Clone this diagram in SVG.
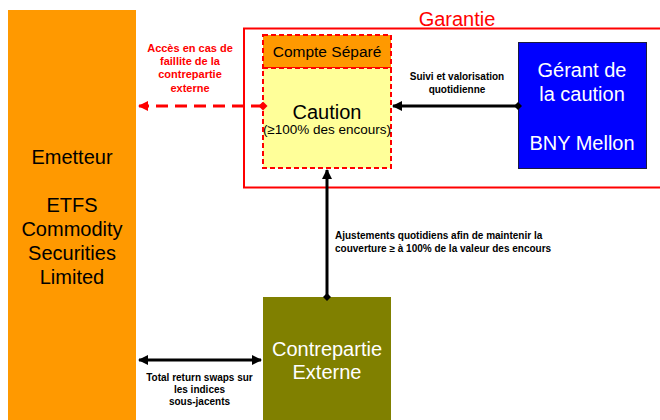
<svg xmlns="http://www.w3.org/2000/svg" width="660" height="420" viewBox="0 0 660 420">
<style>
text{font-family:"Liberation Sans",Arial,sans-serif}
.big{font-size:20px;text-anchor:middle}
.lbl{font-size:10px;font-weight:bold;fill:#000}
.red{fill:#FF0000;font-size:11px}
.conn{stroke:#000;stroke-width:3;fill:none}
</style>
<defs>
<marker id="ah" viewBox="0 0 10 10" refX="9" refY="5" markerWidth="10" markerHeight="10" markerUnits="userSpaceOnUse" orient="auto-start-reverse"><path d="M0,0 L10,5 L0,10 z" fill="#000"/></marker>
<marker id="dm" viewBox="0 0 10 10" refX="5" refY="5" markerWidth="8" markerHeight="8" markerUnits="userSpaceOnUse" orient="auto"><path d="M0,5 L5,0 L10,5 L5,10 z" fill="#000"/></marker>
<marker id="ahr" viewBox="0 0 10 10" refX="9" refY="5" markerWidth="10" markerHeight="10" markerUnits="userSpaceOnUse" orient="auto-start-reverse"><path d="M0,0 L10,5 L0,10 z" fill="#FF0000"/></marker>
<marker id="dmr" viewBox="0 0 10 10" refX="5" refY="5" markerWidth="9" markerHeight="9" markerUnits="userSpaceOnUse" orient="auto"><path d="M0,5 L5,0 L10,5 L5,10 z" fill="#FF0000"/></marker>
</defs>
<rect width="660" height="420" fill="#FFFFFF"/>
<g id="emetteur">
<rect x="8" y="10" width="128" height="412" fill="#FF9900"/>
<text class="big" x="72" y="164">Emetteur</text>
<text class="big" x="72" y="212">ETFS</text>
<text class="big" x="72" y="236">Commodity</text>
<text class="big" x="72" y="260">Securities</text>
<text class="big" x="72" y="284">Limited</text>
</g>
<g id="garantie">
<rect x="244" y="28.5" width="430" height="159" fill="none" stroke="#FF0000" stroke-width="2"/>
<text class="big" x="457" y="26" fill="#FF0000">Garantie</text>
</g>
<g id="compte-separe">
<rect x="263" y="35" width="128" height="33" fill="#FF9900" stroke="#FF0000" stroke-width="2" stroke-dasharray="5,3"/>
<text x="327" y="57" font-size="15.5" text-anchor="middle">Compte Séparé</text>
</g>
<g id="caution">
<rect x="263" y="68" width="128" height="100" fill="#FFFF99" stroke="#FF0000" stroke-width="2" stroke-dasharray="5,3"/>
<text class="big" x="327" y="119">Caution</text>
<text x="327" y="134" font-size="13.5" text-anchor="middle">(≥100% des encours)</text>
</g>
<g id="bny">
<rect x="518.5" y="42.5" width="128" height="126" fill="#0000FF" stroke="#1a1a40" stroke-width="1"/>
<text class="big" x="582" y="77" fill="#FFFFFF">Gérant de</text>
<text class="big" x="582" y="101" fill="#FFFFFF">la caution</text>
<text class="big" x="582" y="150" fill="#FFFFFF">BNY Mellon</text>
</g>
<g id="contrepartie">
<rect x="263" y="297" width="128" height="125" fill="#808000"/>
<text class="big" x="327" y="356" fill="#FFFFFF">Contrepartie</text>
<text class="big" x="327" y="379" fill="#FFFFFF">Externe</text>
</g>
<g id="connectors">
<line x1="263" y1="106" x2="139" y2="106" stroke="#FF0000" stroke-width="3" stroke-dasharray="12,7" marker-start="url(#dmr)" marker-end="url(#ahr)"/>
<line class="conn" x1="518" y1="106" x2="393" y2="106" marker-start="url(#dm)" marker-end="url(#ah)"/>
<line class="conn" x1="327" y1="297" x2="327" y2="170" marker-start="url(#dm)" marker-end="url(#ah)"/>
<line class="conn" x1="139" y1="360" x2="261" y2="360" marker-start="url(#ah)" marker-end="url(#ah)"/>
</g>
<g id="labels">
<text class="lbl red" x="190" y="52" text-anchor="middle">Accès en cas de</text>
<text class="lbl red" x="190" y="65" text-anchor="middle">faillite de la</text>
<text class="lbl red" x="190" y="78" text-anchor="middle">contrepartie</text>
<text class="lbl red" x="190" y="92" text-anchor="middle">externe</text>
<text class="lbl" x="457" y="80" text-anchor="middle">Suivi et valorisation</text>
<text class="lbl" x="457" y="93" text-anchor="middle">quotidienne</text>
<text class="lbl" x="335" y="239">Ajustements quotidiens afin de maintenir la</text>
<text class="lbl" x="335" y="252">couverture ≥ à 100% de la valeur des encours</text>
<text class="lbl" x="199.5" y="381" text-anchor="middle">Total return swaps sur</text>
<text class="lbl" x="199.5" y="393" text-anchor="middle">les indices</text>
<text class="lbl" x="199.5" y="405" text-anchor="middle">sous-jacents</text>
</g>
</svg>
